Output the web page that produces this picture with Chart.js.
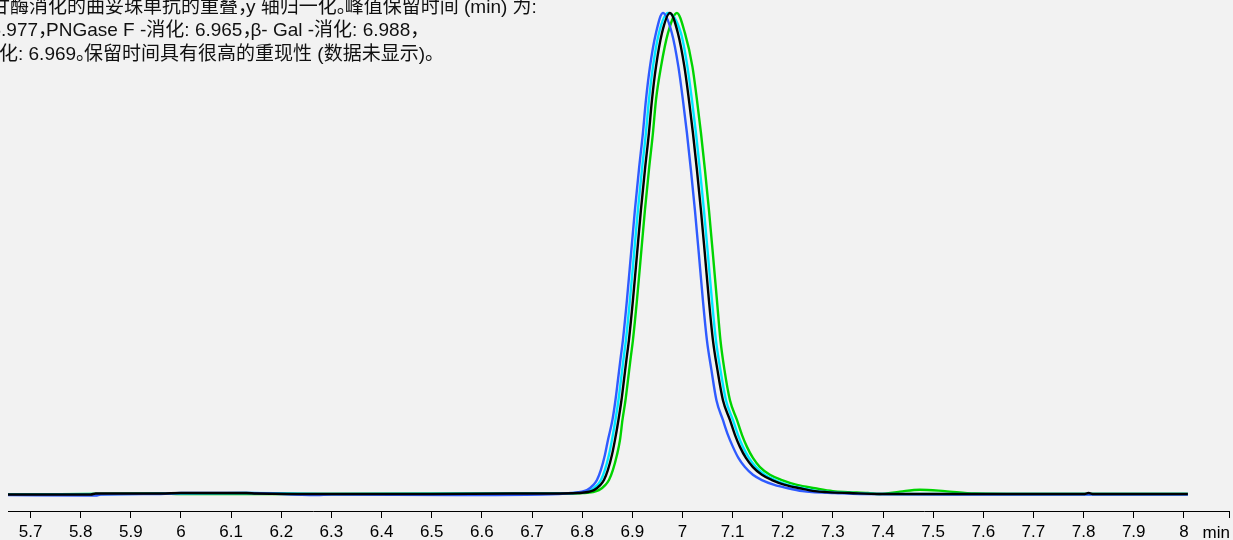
<!DOCTYPE html>
<html>
<head>
<meta charset="utf-8">
<script src="https://cdn.jsdelivr.net/npm/chart.js@4.4.0/dist/chart.umd.min.js"></script>
<style>
  html, body { margin: 0; padding: 0; background: #f2f2f2; }
  #wrap { width: 1233px; height: 540px; position: relative; }
</style>
</head>
<body>
<div id="wrap"><canvas id="chrom"></canvas></div>
<script>
// caption text (left part is cut off in the original)
const captionLines = [
  '甘酶消化的曲妥珠单抗的重叠，y 轴归一化。峰值保留时间 (min) 为:',
  '6.977，PNGase F -消化: 6.965，β- Gal -消化: 6.988，',
  '化: 6.969。保留时间具有很高的重现性 (数据未显示)。'
];

const tickValues = [5.7, 5.8, 5.9, 6, 6.1, 6.2, 6.3, 6.4, 6.5, 6.6, 6.7, 6.8, 6.9, 7,
  7.1, 7.2, 7.3, 7.4, 7.5, 7.6, 7.7, 7.8, 7.9, 8];
const axisUnit = 'min';

// normalised signal levels along the main peak (rise, apex, fall, tail)
const peakLevel = [0.002, 0.008, 0.019, 0.029, 0.050, 0.081, 0.112, 0.154, 0.195, 0.237,
  0.279, 0.320, 0.403, 0.497, 0.590, 0.674, 0.751, 0.819, 0.888, 0.958,
  1.0,
  0.958, 0.888, 0.819, 0.751, 0.674, 0.590, 0.497, 0.403, 0.320, 0.258,
  0.195, 0.154, 0.123, 0.098, 0.075, 0.056, 0.040, 0.029, 0.019, 0.012,
  0.006, 0.004, 0.002, 0.0];

// retention times (min) at those levels, per trace
const blackPeakTime = [6.7916, 6.8235, 6.8365, 6.8435, 6.8514, 6.8594, 6.8654, 6.8724, 6.8784, 6.8834,
  6.8883, 6.8933, 6.9013, 6.9093, 6.9172, 6.9252, 6.9332, 6.9392, 6.9472, 6.9591,
  6.9751,
  6.9910, 7.0040, 7.0130, 7.0209, 7.0289, 7.0369, 7.0449, 7.0528, 7.0608, 7.0698,
  7.0808, 7.0947, 7.1047, 7.1147, 7.1266, 7.1406, 7.1585, 7.1785, 7.2044, 7.2343,
  7.2642, 7.2881, 7.3340, 7.3938];
const bluePeakTime = [6.7776, 6.8095, 6.8225, 6.8295, 6.8374, 6.8454, 6.8514, 6.8604, 6.8664, 6.8714,
  6.8763, 6.8813, 6.8893, 6.8973, 6.9052, 6.9132, 6.9212, 6.9272, 6.9352, 6.9471,
  6.9611,
  6.9790, 6.9920, 7.0010, 7.0089, 7.0169, 7.0249, 7.0329, 7.0408, 7.0488, 7.0578,
  7.0678, 7.0807, 7.0907, 7.1007, 7.1116, 7.1246, 7.1405, 7.1585, 7.1834, 7.2104,
  7.2392, 7.2582, 7.3040, 7.3540];
const cyanPeakTime = [6.7856, 6.8175, 6.8305, 6.8375, 6.8454, 6.8534, 6.8594, 6.8664, 6.8724, 6.8774,
  6.8823, 6.8873, 6.8953, 6.9033, 6.9112, 6.9192, 6.9272, 6.9332, 6.9412, 6.9531,
  6.9711,
  6.9970, 7.0100, 7.0190, 7.0269, 7.0349, 7.0429, 7.0509, 7.0588, 7.0668, 7.0758,
  7.0868, 7.1007, 7.1107, 7.1207, 7.1326, 7.1466, 7.1645, 7.1845, 7.2104, 7.2403,
  7.2702, 7.2941, 7.3400, 7.4000];
const greenPeakTime = [6.8016, 6.8335, 6.8465, 6.8535, 6.8614, 6.8694, 6.8754, 6.8804, 6.8864, 6.8914,
  6.8963, 6.9013, 6.9093, 6.9173, 6.9252, 6.9332, 6.9412, 6.9472, 6.9572, 6.9711,
  6.9890,
  7.0050, 7.0200, 7.0290, 7.0369, 7.0449, 7.0529, 7.0609, 7.0688, 7.0758, 7.0838,
  7.0948, 7.1087, 7.1187, 7.1287, 7.1406, 7.1546, 7.1745, 7.1985, 7.2284, 7.2643,
  7.3000, 7.3300, 7.3700, 7.3938];

// baseline before and after the peak
const blackLeadTime = [5.655, 5.82, 5.83, 5.96, 6.0, 6.13, 6.15, 6.3, 6.5, 6.66, 6.74];
const blackLeadValue = [-0.001, -0.001, 0.001, 0.001, 0.002, 0.002, 0.001, 0.0, 0.0, 0.001, 0.001];
const blackTailTime = [7.6, 7.8, 7.81, 7.82, 8.008];
const blackTailValue = [0.0, 0.0, 0.002, 0.0, 0.0];

const blueLeadTime = [5.655, 5.83, 5.84, 5.96, 6.0, 6.13, 6.27, 6.3, 6.55, 6.72];
const blueLeadValue = [-0.002, -0.003, -0.001, 0.0, 0.002, 0.002, -0.002, -0.001, -0.002, -0.001];
const blueTailTime = [7.6, 8.008];
const blueTailValue = [-0.001, -0.001];

const cyanLeadTime = [5.655, 6.0, 6.13, 6.3, 6.74];
const cyanLeadValue = [-0.001, 0.001, 0.002, 0.0, 0.001];
const cyanTailTime = [8.008];
const cyanTailValue = [0.0];

const greenLeadTime = [5.655, 5.96, 6.0, 6.13, 6.3, 6.75];
const greenLeadValue = [-0.001, 0.001, 0.0, 0.0, 0.0, 0.001];
// small late bump near 7.47 min
const greenTailTime = [7.4337, 7.4736, 7.5234, 7.5833, 7.7, 8.008];
const greenTailValue = [0.005, 0.009, 0.006, 0.001, 0.0, 0.0];

const toPoints = (t, v) => t.map((x, i) => ({ x: x, y: v[i] }));

const trace = (label, lead, leadV, peakT, tail, tailV, color) => ({
  label: label,
  data: toPoints(lead, leadV).concat(toPoints(peakT, peakLevel), toPoints(tail, tailV)),
  borderColor: color,
  borderWidth: 2.4,
  pointRadius: 0,
  fill: false,
  cubicInterpolationMode: 'monotone'
});

// draws CJK text with narrow "，" and "。" like the original typesetting
function drawCaption(c, str, x, y, size) {
  let run = '';
  const flush = () => {
    if (run) { c.fillText(run, x, y); x += c.measureText(run).width; run = ''; }
  };
  for (const ch of str) {
    if (ch === '，' || ch === '。') {
      flush();
      c.fillText(ch, x, y);
      x += size * 0.42;
    } else {
      run += ch;
    }
  }
  flush();
}

const bgPlugin = {
  id: 'bg',
  beforeDraw(chart) {
    const c = chart.ctx;
    c.save();
    c.fillStyle = '#f2f2f2';
    c.fillRect(0, 0, chart.width, chart.height);
    c.restore();
  },
  afterDraw(chart) {
    const c = chart.ctx;
    c.save();
    c.fillStyle = '#111';
    const size = 19;
    c.font = size + 'px "Liberation Sans", "Noto Sans CJK SC", sans-serif';
    c.textBaseline = 'alphabetic';
    const xs = [-9, -9.5, -1];
    const ys = [13, 36, 60];
    captionLines.forEach((s, i) => drawCaption(c, s, xs[i], ys[i], size));
    // unit label at the end of the axis
    const xScale = chart.scales.x;
    c.font = '17px "Liberation Sans", sans-serif';
    c.textAlign = 'right';
    c.fillStyle = '#000';
    c.fillText(axisUnit, xScale.right + 1, 538);
    c.restore();
  }
};

const ctx = document.getElementById('chrom').getContext('2d');
const chart = new Chart(ctx, {
  type: 'line',
  data: {
    datasets: [
      trace('Double digested', blackLeadTime, blackLeadValue, blackPeakTime, blackTailTime, blackTailValue, '#000000'),
      trace('PNGase F', blueLeadTime, blueLeadValue, bluePeakTime, blueTailTime, blueTailValue, '#2f5bff'),
      trace('Undigested', cyanLeadTime, cyanLeadValue, cyanPeakTime, cyanTailTime, cyanTailValue, '#00e8ff'),
      trace('β-Gal', greenLeadTime, greenLeadValue, greenPeakTime, greenTailTime, greenTailValue, '#00d400')
    ]
  },
  options: {
    responsive: true,
    maintainAspectRatio: false,
    animation: false,
    layout: { padding: { left: 8, right: 4, top: 0, bottom: 0 } },
    plugins: {
      legend: { display: false },
      tooltip: { enabled: false }
    },
    scales: {
      x: {
        type: 'linear',
        min: 5.655,
        max: 8.09,
        afterBuildTicks: (scale) => {
          scale.ticks = tickValues.map((v) => ({ value: v })).concat([{ value: 8.09 }]);
        },
        afterFit: (scale) => { scale.height = 29; },
        ticks: {
          autoSkip: false,
          maxRotation: 0,
          padding: 4,
          color: '#000',
          font: { family: '"Liberation Sans", sans-serif', size: 17 },
          callback: (v) => (tickValues.includes(v) ? String(v) : '')
        },
        grid: {
          drawOnChartArea: false,
          drawTicks: true,
          tickLength: 7,
          color: '#000',
          tickColor: '#000'
        },
        border: { display: true, color: '#000', width: 1 }
      },
      y: {
        display: false,
        min: -0.0353,
        max: 1.027
      }
    }
  },
  plugins: [bgPlugin]
});
</script>
</body>
</html>
